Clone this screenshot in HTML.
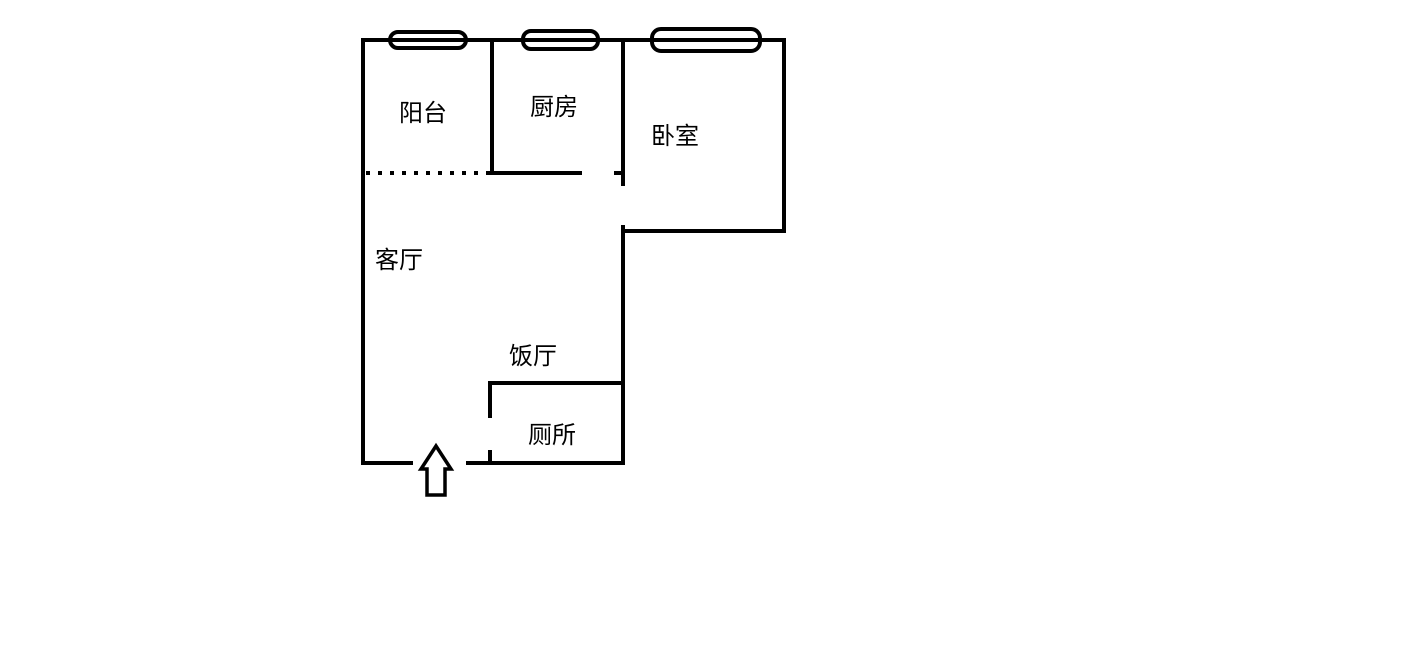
<!DOCTYPE html>
<html><head><meta charset="utf-8"><style>
body{margin:0;background:#fff;width:1425px;height:657px;overflow:hidden}
svg{display:block}
text{font-family:"Liberation Sans","Noto Sans CJK SC","WenQuanYi Zen Hei",sans-serif;font-size:24px;fill:#000}
</style></head><body>
<svg width="1425" height="657" viewBox="0 0 1425 657">
<g stroke="#000" stroke-width="4" fill="none" stroke-linecap="butt">
<line x1="361" y1="40" x2="786" y2="40"/>
<line x1="363" y1="38" x2="363" y2="465"/>
<line x1="784" y1="38" x2="784" y2="233"/>
<line x1="623" y1="231" x2="786" y2="231"/>
<line x1="492" y1="40" x2="492" y2="175"/>
<line x1="490" y1="173" x2="582" y2="173"/>
<line x1="614" y1="173" x2="623" y2="173"/>
<line x1="623" y1="40" x2="623" y2="186"/>
<line x1="623" y1="225" x2="623" y2="465"/>
<line x1="366" y1="173" x2="490" y2="173" stroke-dasharray="4 8"/>
<line x1="361" y1="463" x2="413" y2="463"/>
<line x1="466" y1="463" x2="625" y2="463"/>
<line x1="488" y1="383" x2="625" y2="383"/>
<line x1="490" y1="381" x2="490" y2="418"/>
<line x1="490" y1="450" x2="490" y2="465"/>
</g>
<g stroke="#000" stroke-width="4" fill="none">
<rect x="390" y="32" width="76" height="16" rx="8"/>
<rect x="523" y="31" width="75" height="18" rx="8"/>
<rect x="652" y="29" width="108" height="22" rx="9"/>
</g>
<polygon points="436,446 451,469 445,469 445,495 427,495 427,469 421,469" fill="#fff" stroke="#000" stroke-width="3.5" stroke-linejoin="miter"/>
<text x="399" y="121">阳台</text>
<text x="530" y="115">厨房</text>
<text x="651" y="144">卧室</text>
<text x="375" y="268">客厅</text>
<text x="509" y="364">饭厅</text>
<text x="528" y="443">厕所</text>
</svg>
</body></html>
